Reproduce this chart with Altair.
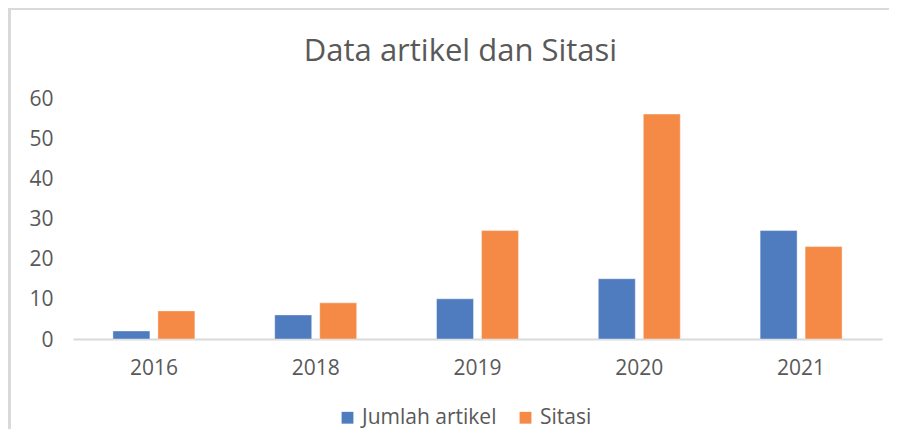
import altair as alt
import pandas as pd

years = ["2016", "2018", "2019", "2020", "2021"]
jumlah_artikel = [2, 6, 10, 15, 27]
sitasi = [7, 9, 27, 56, 23]
series = ["Jumlah artikel", "Sitasi"]
colors = ["#4F7BBF", "#F58A47"]
y_ticks = [0, 10, 20, 30, 40, 50, 60]

rows = []
for i, y in enumerate(years):
    rows.append({"Tahun": y, "Seri": series[0], "Nilai": jumlah_artikel[i]})
    rows.append({"Tahun": y, "Seri": series[1], "Nilai": sitasi[i]})
df = pd.DataFrame(rows)

FONT = "Open Sans"
GRAY = "#595959"

bars = alt.Chart(df).mark_bar(stroke="white", strokeOpacity=0.4, strokeWidth=1).encode(
    x=alt.X("Tahun:N", sort=years, title=None,
            scale=alt.Scale(paddingInner=0.45, paddingOuter=0.225),
            axis=alt.Axis(labelAngle=0, ticks=False, domainColor="#D9D9D9", domainWidth=2,
                          labelColor=GRAY, labelFontSize=21, labelFont=FONT, labelPadding=18)),
    xOffset=alt.XOffset("Seri:N", sort=series,
                        scale=alt.Scale(paddingInner=0.178, paddingOuter=0.078)),
    y=alt.Y("Nilai:Q", title=None,
            scale=alt.Scale(domain=[0, 60], nice=False),
            axis=alt.Axis(values=y_ticks, grid=False, domain=False, ticks=False,
                          labelColor=GRAY, labelFontSize=21, labelFont=FONT, labelPadding=20,
                          labelBaseline="middle", labelOffset=1)),
    color=alt.Color("Seri:N", sort=series, title=None,
                    scale=alt.Scale(domain=series, range=colors),
                    legend=alt.Legend(orient="none", legendX=264, legendY=309,
                                      direction="horizontal", symbolType="square",
                                      symbolSize=140, symbolStrokeWidth=0, labelFontSize=21,
                                      labelFont=FONT, labelColor=GRAY, columnPadding=18,
                                      labelOffset=4)),
)

border_left = alt.Chart(df).mark_rule(color="#D9D9D9", strokeWidth=3).encode(
    x=alt.value(-64), y=alt.value(-90), y2=alt.value(360)
)
border_top = alt.Chart(df).mark_rule(color="#D9D9D9", strokeWidth=3).encode(
    x=alt.value(-65), x2=alt.value(830), y=alt.value(-90)
)

chart = alt.layer(bars, border_left, border_top).properties(
    width=809,
    height=241,
    padding={"left": 65, "top": 90, "right": 7, "bottom": 90},
    autosize=alt.AutoSizeParams(type="none"),
    title=alt.TitleParams("Data artikel dan Sitasi", font=FONT, fontSize=31, fontWeight="normal",
                          color=GRAY, anchor="middle", dx=-17, offset=-61),
).configure(background="white").configure_view(stroke=None)

chart.save("out.html", embed_options={"renderer": "svg", "actions": False})
